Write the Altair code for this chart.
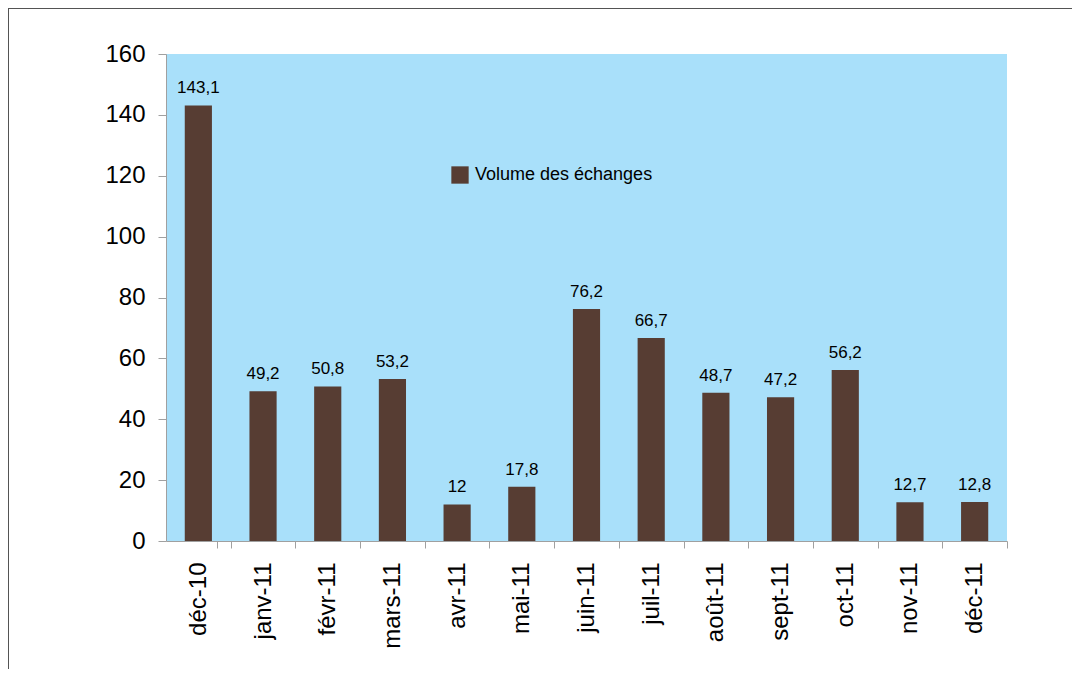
import altair as alt
import pandas as pd

months = ["déc-10", "janv-11", "févr-11", "mars-11", "avr-11", "mai-11", "juin-11",
          "juil-11", "août-11", "sept-11", "oct-11", "nov-11", "déc-11"]
values = [143.1, 49.2, 50.8, 53.2, 12, 17.8, 76.2, 66.7, 48.7, 47.2, 56.2, 12.7, 12.8]
series_name = "Volume des échanges"
y_ticks = [0, 20, 40, 60, 80, 100, 120, 140, 160]

labels = [(f"{v:g}").replace(".", ",") for v in values]
df = pd.DataFrame({"mois": months, "valeur": values, "label": labels, "serie": series_name})

FONT = "Liberation Sans"
BROWN = "#573D33"
AXIS_GRAY = "#A0A0A0"

W, H = 841, 487
HALF_STEP = W / len(months) / 2

x_enc = alt.X("mois:N", sort=months, title=None,
              scale=alt.Scale(paddingInner=0.58, paddingOuter=0.29),
              axis=alt.Axis(labelAngle=-90, labelFont=FONT, labelFontSize=24,
                            labelColor="#000", labelPadding=14,
                            domainColor=AXIS_GRAY, tickColor=AXIS_GRAY,
                            tickSize=7, tickOffset=HALF_STEP, labelOffset=-HALF_STEP,
                            tickExtra=True, grid=False))
y_enc = alt.Y("valeur:Q", title=None,
              scale=alt.Scale(domain=[0, 160], nice=False),
              axis=alt.Axis(values=y_ticks, labelFont=FONT, labelFontSize=24,
                            labelColor="#000", labelPadding=13,
                            domainColor=AXIS_GRAY, tickColor=AXIS_GRAY,
                            tickSize=8, grid=False))

bars = alt.Chart(df).mark_bar().encode(
    x=x_enc,
    y=y_enc,
    color=alt.Color("serie:N",
                    scale=alt.Scale(range=[BROWN]),
                    legend=alt.Legend(orient="none", legendX=285, legendY=112,
                                      title=None, symbolType="square",
                                      symbolSize=300, symbolStrokeWidth=0,
                                      labelFont=FONT, labelFontSize=18, labelLimit=0,
                                      labelColor="#000", labelOffset=6)),
)

text = alt.Chart(df).mark_text(font=FONT, fontSize=17, color="#000",
                               baseline="alphabetic", dy=-12).encode(
    x=alt.X("mois:N", sort=months),
    y=alt.Y("valeur:Q"),
    text="label:N",
)

frame_top = alt.Chart(df).mark_rule(color="#555555", strokeWidth=1.5, clip=False).encode(
    x=alt.value(-158), x2=alt.value(1100), y=alt.value(-46))
frame_left = alt.Chart(df).mark_rule(color="#555555", strokeWidth=1.5, clip=False).encode(
    x=alt.value(-158), y=alt.value(-46), y2=alt.value(700))

chart = alt.layer(bars, text, frame_top, frame_left).properties(
    width=W, height=H,
    autosize=alt.AutoSizeParams(type="none"),
    padding={"left": 158, "top": 46, "right": 65, "bottom": 128},
    background="white",
).configure_view(fill="#A9E0FA", stroke=None)

chart.save("out.html", embed_options={"renderer": "svg", "actions": False})
